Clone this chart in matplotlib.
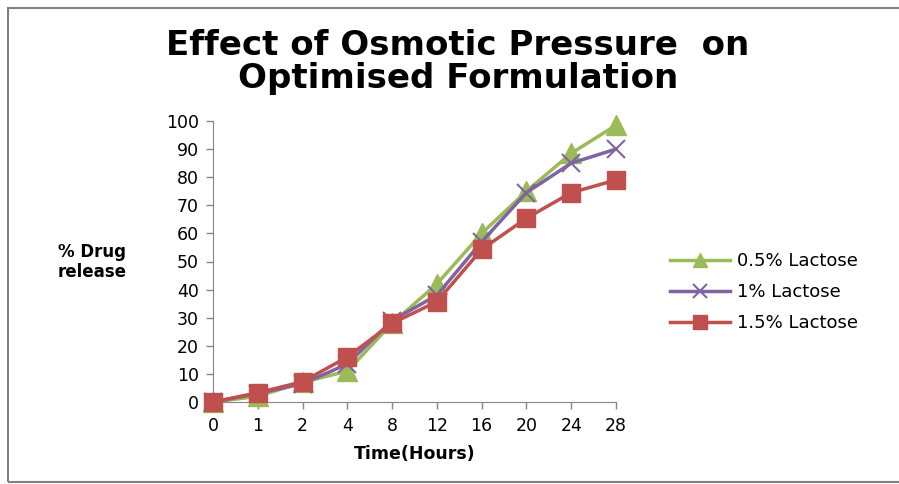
import matplotlib.pyplot as plt
from matplotlib.patches import Rectangle

# data
hours = ["0", "1", "2", "4", "8", "12", "16", "20", "24", "28"]
lactose_05 = [0, 2, 7, 11, 28, 42, 60, 75, 88.5, 98.5]
lactose_1 = [0, 3, 6.5, 13.5, 29, 38, 57, 74.5, 85, 90]
lactose_15 = [0, 3.3, 7.2, 16, 28, 35.7, 54.3, 65.4, 74.5, 79]

green = "#9BBB59"
purple = "#8064A2"
red = "#C0504D"
axcol = "#868686"

plt.rcParams["font.family"] = ["DejaVu Sans"]

fig = plt.figure(figsize=(8.99, 4.84), dpi=100)
ax = fig.add_axes([213 / 899, 1 - 402 / 484, (616 - 213) / 899, (402 - 121) / 484])

x = list(range(len(hours)))
ax.plot(x, lactose_05, color=green, lw=2.5, marker="^", ms=14, label="0.5% Lactose", zorder=2)
ax.plot(x, lactose_1, color=purple, lw=2.5, marker="x", ms=13, mew=1.5, label="1% Lactose", zorder=3)
ax.plot(x, lactose_15, color=red, lw=2.5, marker="s", ms=13, label="1.5% Lactose", zorder=4)

ax.set_xlim(0, len(hours) - 1)
ax.set_ylim(0, 100)
ax.set_xticks(x)
ax.set_xticklabels(hours)
ax.set_yticks(range(0, 101, 10))
ax.tick_params(axis="both", labelsize=12.5, color=axcol, length=5, width=1, pad=5, labelcolor="black")
ax.tick_params(axis="x", pad=6)
for s in ["top", "right"]:
    ax.spines[s].set_visible(False)
for s in ["left", "bottom"]:
    ax.spines[s].set_color(axcol)
for line in ax.lines:
    line.set_clip_on(False)

ax.set_xlabel("Time(Hours)", fontsize=12.5, fontweight="bold", labelpad=7)
fig.text(92 / 899, 1 - 262 / 484, "% Drug\nrelease", fontsize=12, fontweight="bold",
         ha="center", va="center", linespacing=1.15)

fig.text(458 / 899, 1 - 62 / 484, "Effect of Osmotic Pressure  on\nOptimised Formulation",
         fontsize=24.5, fontweight="bold", ha="center", va="center", linespacing=1.02)

ax.legend(loc="center left", bbox_to_anchor=(654 / 899, 1 - 292 / 484), bbox_transform=fig.transFigure,
          frameon=False, fontsize=13, handlelength=3.3, labelspacing=0.72, handletextpad=0.4,
          markerscale=0.75)

fig.patches.append(Rectangle((8 / 899, 2 / 484), 1, 1 - 10 / 484, transform=fig.transFigure,
                             fill=False, edgecolor="#808080", lw=1.5))

fig.savefig("out.png", dpi=100)
